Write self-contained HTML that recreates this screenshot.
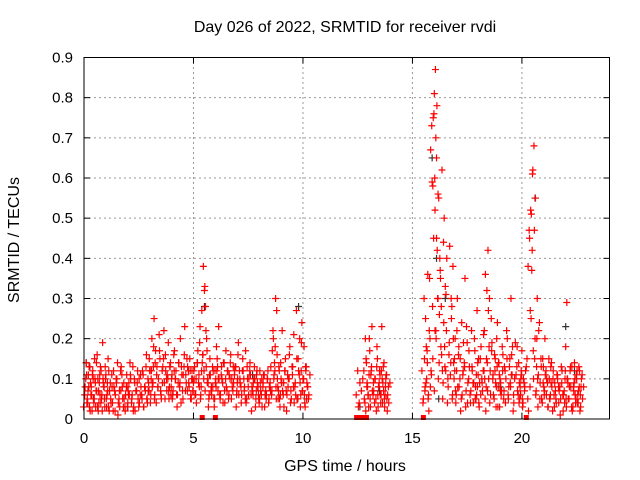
<!DOCTYPE html>
<html><head><meta charset="utf-8"><style>
html,body{margin:0;padding:0;background:#fff}
svg{display:block;font-family:"Liberation Sans",sans-serif}
</style></head><body>
<svg id="chart" width="640" height="480" viewBox="0 0 640 480" xmlns="http://www.w3.org/2000/svg">
<rect width="640" height="480" fill="#fff"/>
<text x="345" y="32" font-size="16" text-anchor="middle">Day 026 of 2022, SRMTID for receiver rvdi</text>
<text x="19" y="240" font-size="16" text-anchor="middle" transform="rotate(-90 19 240)">SRMTID / TECUs</text>
<text x="345" y="471" font-size="16" text-anchor="middle">GPS time / hours</text>
<g id="grid"></g><g id="ticks"></g><g id="marks"></g>
<rect x="84" y="57.5" width="525.5" height="361.5" fill="none" stroke="#000" stroke-width="1"/>
</svg>
<script>
const xTicks=[0,5,10,15,20];
const yTicks=[0,0.1,0.2,0.3,0.4,0.5,0.6,0.7,0.8,0.9];
const yTickLabels=["0","0.1","0.2","0.3","0.4","0.5","0.6","0.7","0.8","0.9"];
const redHours=[0.05,0.1,0.15,0.2,0.25,0.3,0.35,0.4,0.45,0.5,0.55,0.6,0.65,0.7,0.75,0.8,0.85,0.9,0.95,
1.0,1.05,1.1,1.15,1.2,1.3,1.35,1.4,1.5,1.55,1.6,1.7,1.75,1.8,1.9,1.95,
2.0,2.05,2.1,2.2,2.25,2.3,2.4,2.45,2.5,2.6,2.65,2.7,2.8,2.85,2.9,2.95,
3.0,3.05,3.1,3.15,3.2,3.25,3.3,3.4,3.45,3.5,3.6,3.65,3.7,3.8,3.85,3.9,3.95,
4.0,4.05,4.1,4.2,4.25,4.3,4.4,4.45,4.5,4.6,4.65,4.7,4.8,4.85,4.9,4.95,
5.0,5.05,5.1,5.2,5.25,5.3,5.35,5.4,5.45,5.5,5.55,5.6,5.65,5.7,5.75,5.8,5.9,5.95,
6.0,6.05,6.1,6.15,6.2,6.3,6.35,6.4,6.5,6.55,6.6,6.7,6.75,6.8,6.9,6.95,
7.0,7.05,7.1,7.2,7.25,7.3,7.4,7.45,7.5,7.6,7.65,7.7,7.8,7.85,7.9,7.95,
8.0,8.05,8.1,8.2,8.25,8.3,8.4,8.45,8.5,8.6,8.65,8.7,8.75,8.8,8.85,8.9,8.95,
9.0,9.05,9.1,9.2,9.25,9.3,9.4,9.45,9.5,9.6,9.65,9.7,9.8,9.85,9.9,9.95,10.0,10.05,10.1,10.15,10.2,10.25,
12.5,12.6,12.8,12.85,12.9,12.95,13.0,13.05,13.1,13.15,13.2,13.3,13.35,13.4,13.45,13.5,13.55,13.6,13.65,13.7,13.75,13.8,13.85,13.9,
15.5,15.55,15.6,15.65,15.7,15.75,15.8,15.85,15.9,15.95,16.0,16.05,16.1,16.15,16.0,16.2,16.25,16.3,16.35,16.1,16.4,16.45,16.5,16.55,16.6,16.7,16.75,16.8,16.85,16.9,16.95,
17.0,17.05,17.1,17.2,17.25,17.3,17.4,17.45,17.5,17.6,17.65,17.7,17.8,17.85,17.9,17.95,
18.0,18.05,18.1,18.2,18.25,18.3,18.35,18.4,18.45,18.5,18.55,18.6,18.7,18.75,18.8,18.85,18.9,18.95,
19.0,19.05,19.1,19.2,19.25,19.3,19.4,19.45,19.5,19.55,19.6,19.7,19.8,19.85,19.9,19.95,
20.0,20.05,20.1,20.2,20.3,20.35,20.4,20.45,20.5,20.55,20.6,20.65,20.7,20.75,20.8,20.9,20.95,
21.0,21.05,21.1,21.2,21.25,21.3,21.35,21.4,21.5,21.55,21.6,21.7,21.75,21.8,21.9,21.95,
22.0,22.05,22.1,22.15,22.2,22.3,22.35,22.4,22.45,22.5,22.55,22.6,22.65,22.7,22.75];
const redTec=[.08,.14,.05,.11,.03,.09,.06,.12,.04,.1,.07,.16,.02,.09,.13,.05,.19,.08,.03,
.11,.06,.15,.02,.09,.04,.12,.07,.1,.01,.05,.13,.08,.03,.06,.11,
.04,.09,.14,.06,.02,.1,.07,.12,.03,.08,.05,.11,.07,.16,.04,.09,
.12,.06,.2,.09,.25,.14,.04,.1,.17,.07,.13,.22,.05,.11,.19,.08,.14,
.1,.06,.16,.12,.03,.09,.2,.13,.07,.23,.11,.15,.08,.12,.05,.1,
.09,.13,.06,.17,.11,.23,.08,.14,.38,.32,.28,.2,.1,.05,.15,.07,.12,.03,
.09,.18,.13,.23,.06,.1,.04,.14,.08,.12,.05,.16,.1,.07,.13,.03,
.09,.19,.12,.06,.15,.1,.04,.13,.08,.11,.02,.07,.1,.05,.12,.08,
.04,.09,.06,.11,.03,.07,.12,.05,.09,.17,.2,.14,.3,.27,.08,.13,.03,
.1,.22,.06,.15,.02,.11,.18,.07,.13,.04,.09,.27,.12,.2,.06,.24,.1,.18,.03,.13,.08,.05,
.12,.09,.05,.2,.14,.08,.03,.17,.11,.23,.06,.1,.02,.15,.08,.12,.04,.23,.09,.14,.06,.11,.02,.08,
.05,.15,.25,.1,.36,.02,.2,.12,.59,.75,.81,.87,.65,.3,.07,.55,.4,.18,.62,.45,.09,.5,.33,.22,.04,.43,.14,.28,.38,.1,.2,
.06,.3,.16,.02,.24,.11,.35,.07,.19,.13,.04,.22,.09,.17,.05,.27,
.11,.03,.15,.07,.21,.1,.02,.32,.42,.18,.12,.25,.06,.16,.09,.2,.03,.14,
.1,.06,.18,.13,.04,.22,.08,.15,.3,.11,.02,.19,.07,.14,.05,.1,
.17,.04,.09,.13,.02,.45,.52,.37,.62,.68,.2,.07,.3,.11,.24,.05,.15,
.08,.2,.12,.03,.1,.06,.14,.02,.09,.05,.11,.07,.01,.13,.06,.04,
.18,.29,.09,.05,.12,.02,.08,.14,.04,.1,.06,.13,.02,.08,.11];
const tecSatB=[.03,.06,.1,.04,.07,.13,.02,.08,.11,.05,.15,.03,.07,.1,.04,.06,.12,.02,.09,
.05,.1,.03,.07,.12,.04,.08,.02,.06,.09,.14,.03,.07,.11,.05,.02,
.08,.03,.06,.1,.05,.13,.02,.07,.09,.04,.11,.06,.03,.08,.13,.05,
.07,.15,.04,.12,.09,.18,.06,.13,.08,.21,.05,.09,.15,.12,.07,.1,.05,
.13,.08,.05,.17,.1,.06,.14,.09,.04,.11,.16,.07,.13,.09,.15,.06,
.12,.07,.1,.04,.14,.09,.19,.06,.27,.16,.12,.07,.13,.09,.03,.11,.06,.08,
.05,.12,.08,.15,.1,.06,.13,.09,.04,.17,.07,.11,.14,.05,.09,.12,
.13,.07,.16,.09,.04,.12,.08,.17,.05,.1,.14,.06,.09,.13,.03,.11,
.08,.05,.12,.03,.09,.11,.06,.1,.04,.13,.07,.22,.11,.18,.05,.1,.07,
.05,.14,.09,.03,.12,.07,.1,.16,.04,.13,.21,.08,.05,.15,.11,.03,.19,.07,.1,.04,.12,.09,
.06,.03,.1,.12,.04,.15,.09,.06,.2,.03,.13,.07,.1,.05,.18,.03,.09,.06,.12,.04,.07,.03,.1,.05,
.12,.04,.3,.08,.18,.14,.06,.35,.67,.73,.58,.76,.52,.2,.15,.42,.1,.26,.35,.22,.16,.05,.24,.13,.31,.08,.19,.11,.25,.06,.14,
.12,.04,.22,.08,.15,.05,.19,.13,.03,.09,.17,.06,.12,.04,.2,.08,
.06,.14,.04,.18,.09,.12,.22,.36,.15,.07,.1,.04,.19,.11,.05,.15,.08,.24,
.14,.03,.09,.16,.07,.12,.2,.05,.13,.08,.16,.04,.11,.18,.06,.09,
.06,.11,.03,.08,.15,.38,.47,.27,.51,.61,.1,.15,.06,.2,.03,.09,.13,
.04,.13,.07,.1,.03,.15,.05,.09,.12,.03,.07,.1,.04,.08,.12,.02,
.07,.12,.03,.1,.05,.08,.13,.03,.09,.06,.11,.04,.07,.12,.03];
const tecSatC=[.11,.04,.08,.13,.06,.02,.1,.05,.09,.14,.03,.07,.11,.04,.06,.1,.08,.13,.05,
.09,.03,.07,.05,.11,.08,.02,.1,.04,.07,.12,.05,.09,.03,.08,.07,
.06,.11,.04,.03,.09,.07,.05,.1,.06,.12,.03,.08,.05,.1,.07,.12,
.1,.08,.13,.05,.17,.11,.08,.15,.06,.12,.09,.16,.1,.07,.13,.06,.11,
.07,.12,.1,.06,.14,.08,.11,.05,.13,.09,.07,.12,.05,.1,.07,.12,
.06,.1,.14,.08,.05,.12,.16,.1,.33,.22,.17,.09,.06,.11,.08,.13,.05,.1,
.12,.07,.1,.05,.11,.14,.07,.1,.12,.06,.1,.08,.13,.11,.06,.1,
.06,.1,.08,.12,.07,.05,.1,.06,.12,.08,.06,.1,.07,.09,.06,.05,
.07,.1,.08,.06,.05,.1,.08,.07,.06,.1,.12,.08,.16,.05,.12,.06,.09,
.07,.09,.12,.06,.08,.1,.05,.11,.08,.06,.15,.05,.09,.12,.07,.1,.06,.13,.05,.08,.06,.11,
.04,.07,.02,.08,.06,.11,.05,.12,.07,.09,.04,.13,.06,.08,.11,.06,.1,.13,.05,.08,.11,.06,.04,.09,
.07,.09,.17,.05,.22,.08,.11,.28,.45,.6,.7,.78,.56,.14,.22,.37,.28,.12,.44,.3,.18,.12,.4,.1,.16,.3,.05,.2,.15,.07,.12,
.08,.18,.1,.06,.12,.14,.23,.04,.1,.07,.13,.09,.05,.11,.08,.15,
.09,.06,.1,.12,.05,.08,.14,.27,.3,.06,.17,.1,.12,.03,.13,.08,.11,.07,
.07,.12,.05,.1,.15,.06,.09,.11,.18,.06,.1,.13,.04,.08,.12,.05,
.1,.07,.12,.05,.08,.25,.42,.17,.47,.55,.13,.1,.22,.05,.15,.09,.06,
.11,.06,.09,.05,.13,.08,.1,.06,.04,.11,.08,.05,.09,.06,.1,.05,
.1,.05,.08,.13,.03,.07,.1,.05,.12,.04,.08,.06,.1,.05,.08];
const darkHours=[0.1,2.0,5.5,7.7,9.8,12.6,13.5,15.9,16.1,16.2,16.5,19.0,20.6,22.0,22.4];
const darkTec=[.14,.03,.28,.11,.28,.03,.07,.65,.4,.05,.3,.08,.55,.23,.12];
const zeroHours=[5.4,6.0,12.45,12.6,12.75,12.9,15.5,20.2];

const X0=84,X1=609.5,Y0=419,Y1=57.5,XMAX=24,YMAX=0.9;
const sx=v=>X0+(X1-X0)*v/XMAX, sy=v=>Y0-(Y0-Y1)*v/YMAX;
const NS="http://www.w3.org/2000/svg";
function mk(tag,attrs,parent){const e=document.createElementNS(NS,tag);for(const k in attrs)e.setAttribute(k,attrs[k]);parent.appendChild(e);return e;}
const grid=document.getElementById('grid'),ticks=document.getElementById('ticks'),marks=document.getElementById('marks');
xTicks.forEach(t=>{
  const x=sx(t);
  if(t>0){const g=mk('line',{x1:x,x2:x,y1:Y0,y2:Y1,stroke:'#999','stroke-dasharray':'2,3'},grid);
  
  }
  mk('line',{x1:x,x2:x,y1:Y0,y2:Y0-6,stroke:'#000'},ticks);
  mk('line',{x1:x,x2:x,y1:Y1,y2:Y1+6,stroke:'#000'},ticks);
  const l=mk('text',{x:x,y:443,'font-size':15,'text-anchor':'middle'},ticks);
  l.textContent=String(t);
  
  
});
yTicks.forEach((t,i)=>{
  const y=sy(t);
  if(t>0&&t<YMAX){const g=mk('line',{x1:X0,x2:X1,y1:y,y2:y,stroke:'#999','stroke-dasharray':'2,3'},grid);
  
  }
  mk('line',{x1:X0,x2:X0+6,y1:y,y2:y,stroke:'#000'},ticks);
  mk('line',{x1:X1,x2:X1-6,y1:y,y2:y,stroke:'#000'},ticks);
  const l=mk('text',{x:73,y:y+5,'font-size':15,'text-anchor':'end'},ticks);
  l.textContent=yTickLabels[i];
  
  
});
function cross(h,v,color,name,nudge){
  const x=sx(h)+nudge,y=sy(v);
  const p=mk('path',{d:`M${x-3.5},${y}H${x+3.5}M${x},${y-3.5}V${y+3.5}`,stroke:color,'stroke-width':1.2,fill:'none'},marks);
  
  
}
darkHours.forEach((h,i)=>cross(h,darkTec[i],'#333','dark-point',0));
redHours.forEach((h,i)=>{
  if(i<tecSatB.length) cross(h,tecSatB[i],'#f00','srmtid-point-b',-1.5);
  if(i<tecSatC.length) cross(h,tecSatC[i],'#f00','srmtid-point-c',1.5);
  cross(h,redTec[i],'#f00','srmtid-point',0);
});
zeroHours.forEach(h=>{
  const r=mk('rect',{x:sx(h)-2.5,y:Y0-4,width:5,height:5,fill:'#f00'},marks);
  
  
});
</script>
</body></html>
